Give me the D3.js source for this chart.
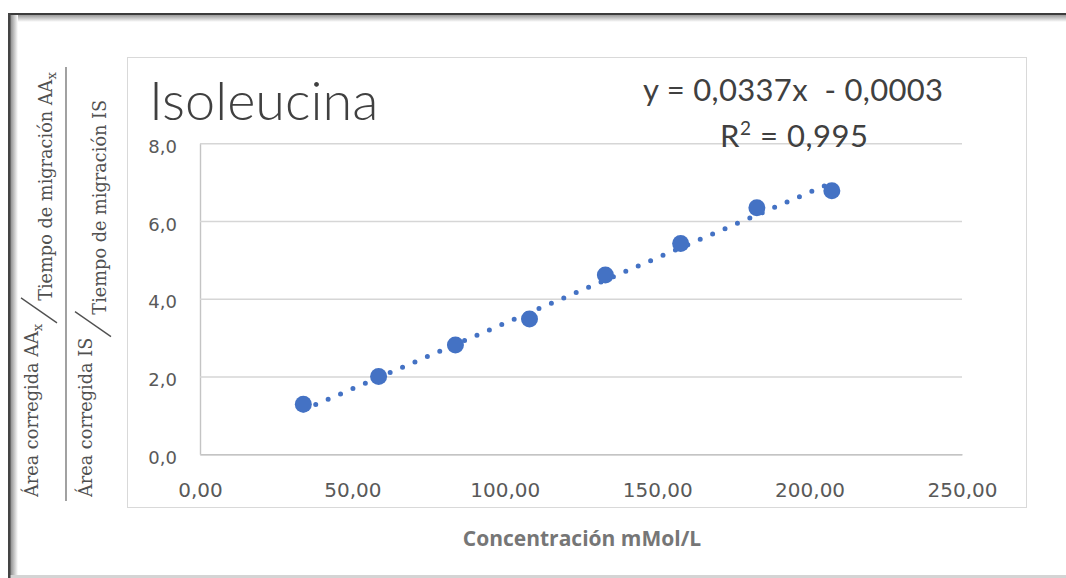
<!DOCTYPE html>
<html>
<head>
<meta charset="utf-8">
<script src="https://cdn.jsdelivr.net/npm/d3@7"></script>
<style>
  body { margin: 0; background: #fff; }
  svg { display: block; }
</style>
</head>
<body>
<svg id="chart" width="1066" height="578"></svg>
<script>
// datos
var concentracion = [33.9, 58.6, 83.8, 108.1, 133.0, 157.7, 182.7, 207.3];
var razonAreas = [1.29, 2.00, 2.81, 3.48, 4.61, 5.42, 6.34, 6.78];
var xTicks = [0, 50, 100, 150, 200, 250];
var yTicks = [0, 2, 4, 6, 8];
var pendiente = 0.0337, intercepto = -0.0003;
var titulo = "Isoleucina";
var ecuacion = "y = 0,0337x  - 0,0003";
var rCuadrado = "0,995";
var tituloX = "Concentración mMol/L";

var azul = "#4472C4"
  , gris = "#595959";

var es = d3.formatLocale({decimal: ",", thousands: ".", grouping: [3], currency: ["", "€"]});

var svg = d3.select("#chart");
var defs = svg.append("defs");

// marco de la imagen con sombra interior
var gTop = defs.append("linearGradient").attr("id", "sombraTop").attr("x1", 0).attr("y1", 0).attr("x2", 0).attr("y2", 1);
gTop.append("stop").attr("offset", 0).attr("stop-color", "#9a9a9a");
gTop.append("stop").attr("offset", 1).attr("stop-color", "#fff");
var gLeft = defs.append("linearGradient").attr("id", "sombraLeft").attr("x1", 0).attr("y1", 0).attr("x2", 1).attr("y2", 0);
gLeft.append("stop").attr("offset", 0).attr("stop-color", "#858585");
gLeft.append("stop").attr("offset", 1).attr("stop-color", "#fff");

svg.append("rect").attr("x", 10).attr("y", 15).attr("width", 1056).attr("height", 7).attr("fill", "url(#sombraTop)");
svg.append("rect").attr("x", 10).attr("y", 15).attr("width", 8).attr("height", 563).attr("fill", "url(#sombraLeft)");
svg.append("rect").attr("x", 8).attr("y", 575).attr("width", 1058).attr("height", 3).attr("fill", "#d4d4d4");
svg.append("rect").attr("x", 8).attr("y", 13).attr("width", 1058).attr("height", 2).attr("fill", "#3c3c3c");
svg.append("rect").attr("x", 8).attr("y", 13).attr("width", 2.5).attr("height", 565).attr("fill", "#444");

// area del grafico
svg.append("rect")
  .attr("x", 127.5).attr("y", 57.5)
  .attr("width", 899).attr("height", 450)
  .attr("fill", "#fff")
  .attr("stroke", "#d9d9d9");

var x = d3.scaleLinear().domain([0, 250]).range([200, 962]);
var y = d3.scaleLinear().domain([0, 8]).range([454.3, 143.3]);

// eje y + rejilla
var yAxis = svg.append("g")
    .attr("transform", "translate(" + x(0) + ",0)")
    .call(d3.axisLeft(y)
      .tickValues(yTicks)
      .tickSize(-(x(250) - x(0)))
      .tickSizeOuter(0)
      .tickPadding(23)
      .tickFormat(es.format(".1f")));
yAxis.select(".domain").attr("stroke", "#c4c4c4").attr("stroke-width", 1.4);
yAxis.selectAll(".tick line").attr("stroke", "#d6d6d6").attr("stroke-width", 1.4);
yAxis.selectAll(".tick text")
  .attr("dy", "0.5em")
  .attr("fill", gris)
  .style("font-family", "'DejaVu Sans', Verdana, sans-serif")
  .style("font-size", "18px");

// eje x
var xAxis = svg.append("g")
    .attr("transform", "translate(0," + y(0) + ")")
    .call(d3.axisBottom(x)
      .tickValues(xTicks)
      .tickSize(0)
      .tickPadding(28.5)
      .tickFormat(es.format(".2f")));
xAxis.select(".domain").attr("stroke", "#c4c4c4").attr("stroke-width", 1.4);
xAxis.selectAll(".tick text")
  .attr("fill", gris)
  .style("font-family", "'DejaVu Sans', Verdana, sans-serif")
  .style("font-size", "20px");

// linea de tendencia
var xMin = d3.min(concentracion), xMax = d3.max(concentracion);
svg.append("line")
  .attr("x1", x(xMin)).attr("y1", y(pendiente * xMin + intercepto))
  .attr("x2", x(xMax)).attr("y2", y(pendiente * xMax + intercepto))
  .attr("stroke", azul)
  .attr("stroke-width", 5)
  .attr("stroke-linecap", "round")
  .attr("stroke-dasharray", "0 13.5");

// puntos
svg.append("g")
    .selectAll("circle")
    .data(concentracion)
  .enter().append("circle")
    .attr("cx", d => x(d))
    .attr("cy", (d, i) => y(razonAreas[i]))
    .attr("r", 8.5)
    .attr("fill", azul);

// titulo
svg.append("text")
  .attr("x", 149).attr("y", 120)
  .attr("fill", "#404040")
  .style("font-family", "Lato, 'Open Sans', sans-serif")
  .style("font-weight", 300)
  .style("font-size", "54px")
  .text(titulo);

// ecuacion y R2
var fuenteEq = "Lato, 'Open Sans', sans-serif";
svg.append("text")
  .attr("x", 643).attr("y", 101)
  .attr("textLength", 300).attr("lengthAdjust", "spacing")
  .attr("fill", "#404040")
  .style("font-family", fuenteEq)
  .style("font-size", "31px")
  .style("white-space", "pre")
  .text(ecuacion);
var r2 = svg.append("text")
  .attr("x", 720).attr("y", 147)
  .attr("textLength", 148).attr("lengthAdjust", "spacing")
  .attr("fill", "#404040")
  .style("font-family", fuenteEq)
  .style("font-size", "31px");
r2.append("tspan").text("R");
r2.append("tspan").attr("dy", -12).style("font-size", "19px").text("2");
r2.append("tspan").attr("dy", 12).text(" = " + rCuadrado);

// titulo eje x
svg.append("text")
  .attr("x", 582).attr("y", 546)
  .attr("text-anchor", "middle")
  .attr("fill", "#767676")
  .style("font-family", "'Open Sans', sans-serif")
  .style("font-weight", "bold")
  .style("font-size", "21px")
  .text(tituloX);

// titulo eje y: fraccion de fracciones
var fy = svg.append("g")
    .attr("transform", "translate(0,505) rotate(-90)")
    .attr("fill", "#505050")
    .style("font-family", "'DejaVu Serif', 'Liberation Serif', serif")
    .style("font-size", "17.7px");

function parte(g, lx, base, texto, sub) {
  var t = g.append("text").attr("x", lx).attr("y", base);
  t.append("tspan").text(texto);
  if (sub) {
    t.append("tspan").attr("dy", 4).style("font-size", "13px").text(sub);
  }
  return t.node().getComputedTextLength();
}

function fila(lx, base1, base2, a, subA, b, subB) {
  var w1 = parte(fy, lx, base1, a, subA);
  var s0 = lx + w1 + 1;
  fy.append("line")
    .attr("x1", s0).attr("y1", base2 + 5)
    .attr("x2", s0 + 25).attr("y2", base1 - 17)
    .attr("stroke", "#505050").attr("stroke-width", 1.3);
  parte(fy, s0 + 22, base2, b, subB);
}

fila(8, 38, 52, "Área corregida AA", "x", "Tiempo de migración AA", "x");
fy.append("line")
  .attr("x1", 4).attr("y1", 66).attr("x2", 438).attr("y2", 66)
  .attr("stroke", "#7a7a7a").attr("stroke-width", 1.4);
fila(8, 92, 106, "Área corregida IS", null, "Tiempo de migración IS", null);
</script>
</body>
</html>
